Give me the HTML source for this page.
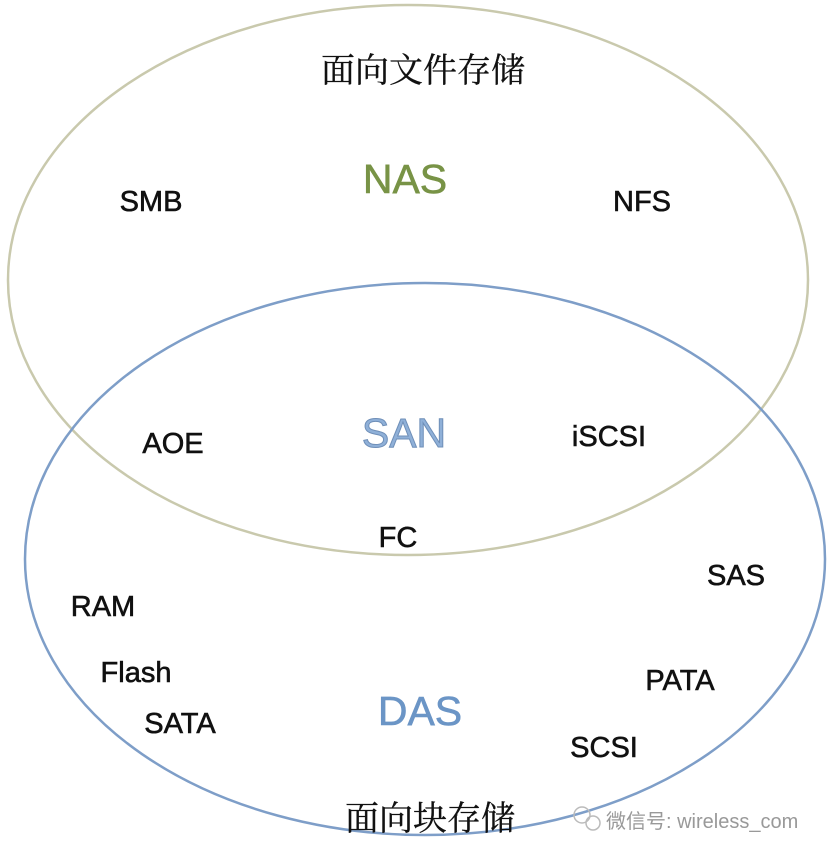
<!DOCTYPE html>
<html><head><meta charset="utf-8"><style>
body{margin:0;background:#fff;}
svg text{font-family:"Liberation Sans","Noto Sans CJK SC",sans-serif;}
svg text.cn{font-family:"Noto Serif CJK SC","Noto Sans CJK SC",serif;}
</style></head><body>
<svg width="831" height="856" viewBox="0 0 831 856" xmlns="http://www.w3.org/2000/svg">
<ellipse cx="408" cy="280" rx="400" ry="275" fill="none" stroke="#c9c9ad" stroke-width="2.5"/>
<ellipse cx="425" cy="559" rx="400" ry="276" fill="none" stroke="#7e9ec8" stroke-width="2.5"/>
<g font-size="29" fill="#111" stroke="#111" stroke-width="0.6" text-anchor="middle">
<text class="cn" x="423" y="82" font-size="34" stroke-width="0.3">面向文件存储</text>
<text x="405" y="193" font-size="41" fill="#789346" stroke="#789346">NAS</text>
<text x="151" y="211">SMB</text>
<text x="642" y="211">NFS</text>
<text x="404" y="447" font-size="41" fill="#8fb0d8" stroke="#6f8fb8" stroke-width="1">SAN</text>
<text x="173" y="453">AOE</text>
<text x="609" y="446">iSCSI</text>
<text x="398" y="547">FC</text>
<text x="736" y="585">SAS</text>
<text x="103" y="616">RAM</text>
<text x="136" y="682">Flash</text>
<text x="680" y="690">PATA</text>
<text x="180" y="733">SATA</text>
<text x="420" y="725" font-size="41" fill="#6b95c6" stroke="#6b95c6">DAS</text>
<text x="604" y="757">SCSI</text>
<text class="cn" x="430" y="830" font-size="34" stroke-width="0.3">面向块存储</text>
</g>
<text x="606" y="828" font-size="20" fill="#999">微信号: wireless_com</text>
<circle cx="582" cy="815" r="8" fill="none" stroke="#bbb" stroke-width="1.5"/>
<circle cx="593" cy="823" r="7" fill="none" stroke="#bbb" stroke-width="1.5"/>
</svg>
</body></html>
